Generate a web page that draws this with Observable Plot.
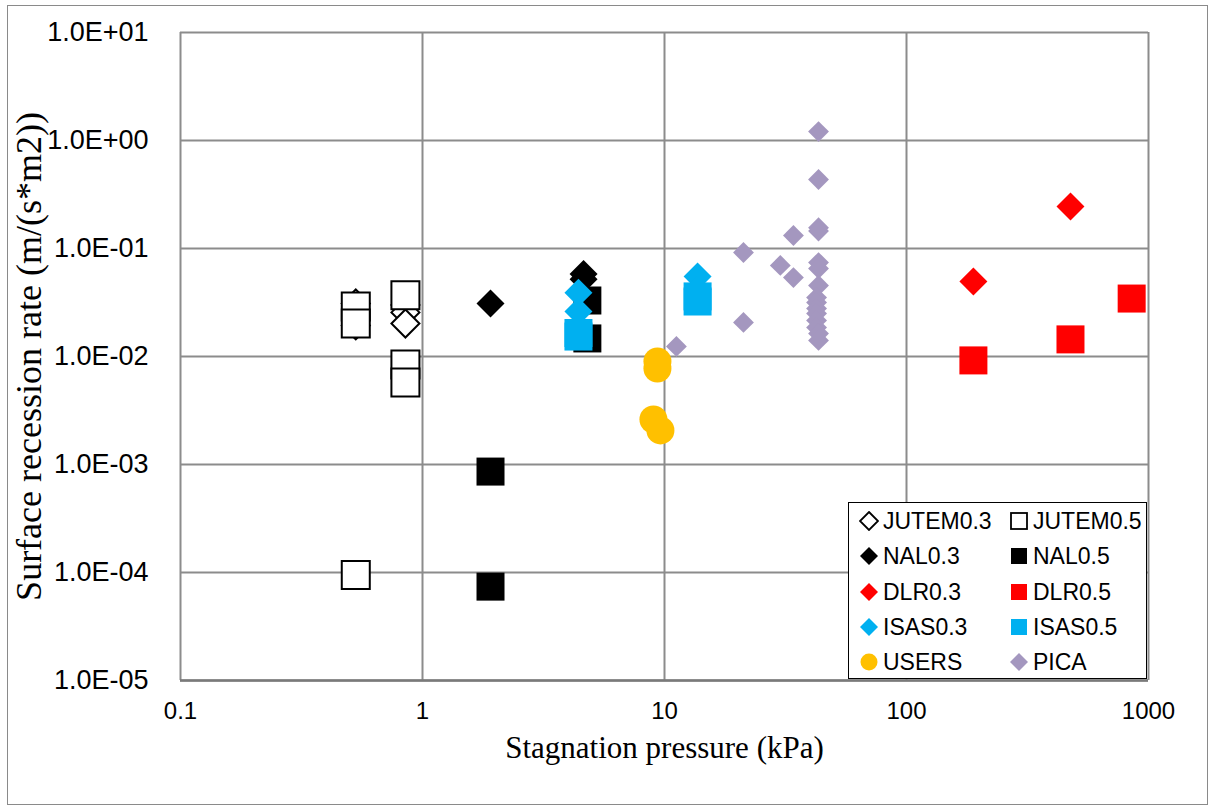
<!DOCTYPE html>
<html><head><meta charset="utf-8">
<script src="https://cdn.jsdelivr.net/npm/d3@7"></script>
<script src="https://cdn.jsdelivr.net/npm/@observablehq/plot@0.6"></script>
<style>
body{margin:0;background:#fff;}
#wrap{position:relative;width:1210px;height:807px;overflow:hidden;background:#fff;}
#chart{position:absolute;left:0;top:0;}
#border{position:absolute;left:7px;top:5px;width:1199px;height:798px;border:1.5px solid #8a8a8a;pointer-events:none;}
#legend{position:absolute;left:848px;top:502px;width:297px;height:175px;border:1.5px solid #000;background:#fff;font-family:"Liberation Sans",Arial,sans-serif;font-size:23px;color:#000;}
.item{position:absolute;height:30px;line-height:30px;white-space:nowrap;}
.item svg{position:absolute;left:-10px;top:5px;}
.item span{position:absolute;left:14px;top:0;}
</style></head><body>
<div id="wrap"><div id="chart"></div><div id="border"></div><div id="legend"></div></div>
<script>
// ---- data ----
const xTicks = [0.1, 1, 10, 100, 1000];
const xTickLabels = ["0.1", "1", "10", "100", "1000"];
const yTicks = [1e-5, 1e-4, 1e-3, 1e-2, 1e-1, 1, 10];
const yTickLabels = ["1.0E-05", "1.0E-04", "1.0E-03", "1.0E-02", "1.0E-01", "1.0E+00", "1.0E+01"];
const xTitle = "Stagnation pressure (kPa)";
const yTitle = "Surface recession rate (m/(s*m2))";

const seriesNames = ["JUTEM0.3", "JUTEM0.5", "NAL0.3", "NAL0.5", "DLR0.3", "DLR0.5", "ISAS0.3", "ISAS0.5", "USERS", "PICA"];

const jutem03X = [0.53, 0.53, 0.85, 0.85, 0.85];
const jutem03Y = [0.031, 0.0194, 0.030, 0.0256, 0.0202];
const jutem05X = [0.53, 0.53, 0.85, 0.85, 0.85, 0.53];
const jutem05Y = [0.029, 0.0202, 0.037, 0.00844, 0.00574, 9.5e-5];
const nal03X = [1.91, 4.63, 4.63];
const nal03Y = [0.031, 0.058, 0.052];
const nal05X = [1.91, 1.91, 4.8, 4.8];
const nal05Y = [8.6e-4, 7.4e-5, 0.033, 0.0147];
const dlr03X = [189, 476];
const dlr03Y = [0.0494, 0.245];
const dlr05X = [189, 476, 852];
const dlr05Y = [0.0092, 0.0144, 0.0344];
const isas03X = [4.41, 4.41, 13.7, 13.7];
const isas03Y = [0.039, 0.0261, 0.055, 0.0417];
const isas05X = [4.41, 4.41, 13.7, 13.7];
const isas05Y = [0.0153, 0.0165, 0.0323, 0.036];
const usersX = [9.35, 9.35, 9.0, 9.62];
const usersY = [0.009, 0.00774, 0.00261, 0.00207];
const picaX = [11.2, 43.3, 43.3, 43.3, 43.3, 34.1, 21.2, 30.1, 34.1, 43.3, 43.3, 43.3, 42.5, 42.5, 42.5, 42.5, 42.5, 42.5, 43.3, 43.3, 21.2];
const picaY = [0.0124, 1.21, 0.435, 0.156, 0.145, 0.132, 0.0918, 0.0697, 0.0538, 0.0741, 0.0653, 0.0454, 0.0351, 0.0316, 0.0278, 0.025, 0.0216, 0.0186, 0.0163, 0.0141, 0.0207];

// ---- styles ----
const styles = {
  "JUTEM0.3": {symbol: "diamond2", r: 12.6, fill: "white", stroke: "black", strokeWidth: 2},
  "JUTEM0.5": {symbol: "square", r: 15.8, fill: "white", stroke: "black", strokeWidth: 2},
  "NAL0.3": {symbol: "diamond2", r: 12.6, fill: "black", stroke: "none"},
  "NAL0.5": {symbol: "square", r: 15.8, fill: "black", stroke: "none"},
  "DLR0.3": {symbol: "diamond2", r: 12.6, fill: "#ff0000", stroke: "none"},
  "DLR0.5": {symbol: "square", r: 15.8, fill: "#ff0000", stroke: "none"},
  "ISAS0.3": {symbol: "diamond2", r: 12.6, fill: "#00b0f0", stroke: "none"},
  "ISAS0.5": {symbol: "square", r: 15.8, fill: "#00b0f0", stroke: "none"},
  "USERS": {symbol: "circle", r: 14, fill: "#ffc000", stroke: "none"},
  "PICA": {symbol: "diamond2", r: 9.4, fill: "#a497bf", stroke: "none"}
};

const seriesData = {
  "JUTEM0.3": [jutem03X, jutem03Y], "JUTEM0.5": [jutem05X, jutem05Y],
  "NAL0.3": [nal03X, nal03Y], "NAL0.5": [nal05X, nal05Y],
  "DLR0.3": [dlr03X, dlr03Y], "DLR0.5": [dlr05X, dlr05Y],
  "ISAS0.3": [isas03X, isas03Y], "ISAS0.5": [isas05X, isas05Y],
  "USERS": [usersX, usersY], "PICA": [picaX, picaY]
};
const rows = s => seriesData[s][0].map((x, i) => ({x, y: seriesData[s][1][i]}));

const drawOrder = ["JUTEM0.3", "JUTEM0.5", "NAL0.3", "NAL0.5", "DLR0.3", "DLR0.5", "ISAS0.3", "ISAS0.5", "PICA", "USERS"];

const chart = Plot.plot({
  width: 1210, height: 807,
  marginLeft: 180, marginRight: 62, marginTop: 32, marginBottom: 127,
  style: {background: "transparent", overflow: "visible"},
  x: {type: "log", domain: [0.1, 1000]},
  y: {type: "log", domain: [1e-5, 10]},
  marks: [
    Plot.ruleX(xTicks, {stroke: "#8c8c8c", strokeWidth: 2}),
    Plot.ruleY(yTicks, {stroke: "#8c8c8c", strokeWidth: 2}),
    Plot.ruleY([1e-5], {stroke: "#7a7a7a", strokeWidth: 2.5}),
    Plot.axisX({ticks: xTicks, tickSize: 0, tickPadding: 21, label: null,
      tickFormat: d => xTickLabels[xTicks.indexOf(d)],
      fontSize: 24, fontFamily: "'Liberation Sans Narrow','Arial Narrow',sans-serif", fill: "black"}),
    Plot.axisY({ticks: yTicks, tickSize: 0, tickPadding: 32, label: null,
      tickFormat: d => yTickLabels[yTicks.indexOf(d)],
      fontSize: 27, fontFamily: "'Liberation Sans',Arial,sans-serif", fill: "black"}),
    ...drawOrder.map(s => Plot.dot(rows(s), {x: "x", y: "y", ...styles[s]})),
    Plot.text([xTitle], {frameAnchor: "bottom", dy: 77, fontSize: 31, textAnchor: "middle",
      fontFamily: "'Liberation Serif','Times New Roman',serif", fill: "black"}),
    Plot.text([yTitle], {frameAnchor: "left", dx: -151, rotate: -90, fontSize: 36, textAnchor: "middle",
      fontFamily: "'Liberation Serif','Times New Roman',serif", fill: "black"})
  ]
});
document.getElementById("chart").appendChild(chart);

// ---- legend ----
const legend = document.getElementById("legend");
const legendOrder = ["JUTEM0.3", "JUTEM0.5", "NAL0.3", "NAL0.5", "DLR0.3", "DLR0.5", "ISAS0.3", "ISAS0.5", "USERS", "PICA"];
legendOrder.forEach((s, i) => {
  const col = i % 2, row = Math.floor(i / 2);
  const st = styles[s];
  const div = document.createElement("div");
  div.className = "item";
  div.style.left = (col === 0 ? 20 : 170) + "px";
  div.style.top = (3 + row * 35.3) + "px";
  let shape;
  const f = st.fill, sk = st.stroke === "none" ? "none" : st.stroke;
  if (st.symbol === "square") shape = `<rect x="2" y="2" width="16" height="16" fill="${f}" stroke="${sk}" stroke-width="1.8"/>`;
  else if (st.symbol === "circle") shape = `<circle cx="10" cy="10" r="8.5" fill="${f}"/>`;
  else shape = `<polygon points="10,1 19,10 10,19 1,10" fill="${f}" stroke="${sk}" stroke-width="1.8"/>`;
  div.innerHTML = `<svg width="20" height="20">${shape}</svg><span>${s}</span>`;
  legend.appendChild(div);
});
</script>
</body></html>
